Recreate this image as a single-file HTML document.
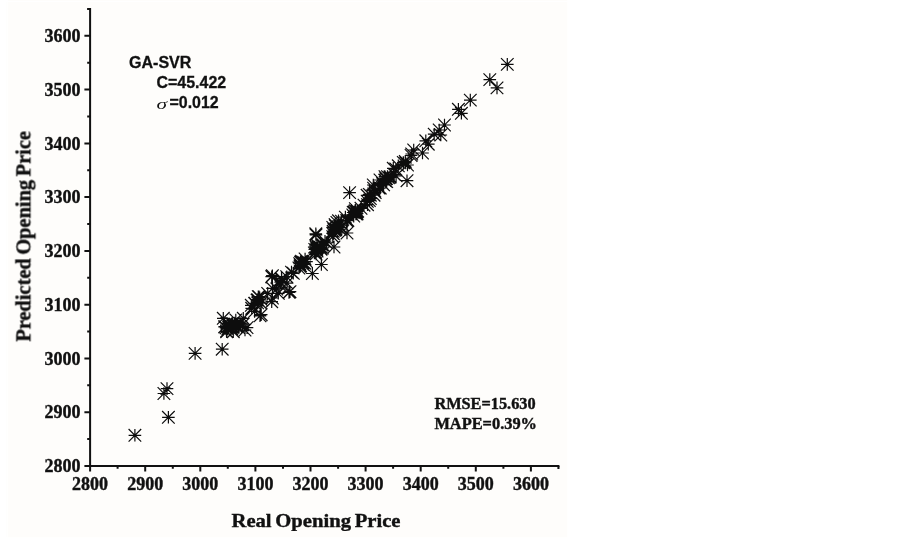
<!DOCTYPE html>
<html><head><meta charset="utf-8"><title>GA-SVR</title>
<style>
html,body{margin:0;padding:0;background:#fff;}
body{width:903px;height:539px;overflow:hidden;}
svg{display:block;}
.s{font-family:"Liberation Serif",serif;font-weight:bold;fill:#111;stroke:#111;stroke-width:0.4px;}
.a{font-family:"Liberation Sans",sans-serif;font-weight:bold;fill:#111;stroke:#111;stroke-width:0.3px;}
</style></head><body>
<svg width="903" height="539" viewBox="0 0 903 539">
<rect x="0" y="0" width="903" height="539" fill="#ffffff"/>
<rect x="8" y="2" width="559.3" height="535.2" fill="#fefdfb"/><rect x="6.3" y="2" width="1" height="535" fill="#fefefc"/><rect x="8" y="0" width="559.3" height="0.9" fill="#fefdfb"/>
<path d="M90.1 8.1V466.0H559.4" fill="none" stroke="#111" stroke-width="2" stroke-linecap="butt" stroke-linejoin="miter"/>
<path d="M90.1 466.0v5.6M90.1 466.0h-5.7M117.6 466.0v2.8M90.1 439.1h-2.9M145.2 466.0v5.6M90.1 412.2h-5.7M172.8 466.0v2.8M90.1 385.3h-2.9M200.3 466.0v5.6M90.1 358.5h-5.7M227.8 466.0v2.8M90.1 331.6h-2.9M255.4 466.0v5.6M90.1 304.7h-5.7M283.0 466.0v2.8M90.1 277.8h-2.9M310.5 466.0v5.6M90.1 250.9h-5.7M338.1 466.0v2.8M90.1 224.0h-2.9M365.6 466.0v5.6M90.1 197.1h-5.7M393.1 466.0v2.8M90.1 170.2h-2.9M420.7 466.0v5.6M90.1 143.4h-5.7M448.2 466.0v2.8M90.1 116.5h-2.9M475.8 466.0v5.6M90.1 89.6h-5.7M503.4 466.0v2.8M90.1 62.7h-2.9M530.9 466.0v5.6M90.1 35.8h-5.7M558.5 466.0v2.8M90.1 8.9h-2.9M90.1 9.1h-3.0M558.4 466.0v2.9" fill="none" stroke="#111" stroke-width="2"/>
<g style="filter:grayscale(1)">
<g class="s" font-size="18">
<text x="90.1" y="489.7" text-anchor="middle" textLength="36" lengthAdjust="spacingAndGlyphs">2800</text>
<text x="80.6" y="472.2" text-anchor="end" textLength="36" lengthAdjust="spacingAndGlyphs">2800</text>
<text x="145.2" y="489.7" text-anchor="middle" textLength="36" lengthAdjust="spacingAndGlyphs">2900</text>
<text x="80.6" y="418.4" text-anchor="end" textLength="36" lengthAdjust="spacingAndGlyphs">2900</text>
<text x="200.3" y="489.7" text-anchor="middle" textLength="36" lengthAdjust="spacingAndGlyphs">3000</text>
<text x="80.6" y="364.7" text-anchor="end" textLength="36" lengthAdjust="spacingAndGlyphs">3000</text>
<text x="255.4" y="489.7" text-anchor="middle" textLength="36" lengthAdjust="spacingAndGlyphs">3100</text>
<text x="80.6" y="310.9" text-anchor="end" textLength="36" lengthAdjust="spacingAndGlyphs">3100</text>
<text x="310.5" y="489.7" text-anchor="middle" textLength="36" lengthAdjust="spacingAndGlyphs">3200</text>
<text x="80.6" y="257.1" text-anchor="end" textLength="36" lengthAdjust="spacingAndGlyphs">3200</text>
<text x="365.6" y="489.7" text-anchor="middle" textLength="36" lengthAdjust="spacingAndGlyphs">3300</text>
<text x="80.6" y="203.3" text-anchor="end" textLength="36" lengthAdjust="spacingAndGlyphs">3300</text>
<text x="420.7" y="489.7" text-anchor="middle" textLength="36" lengthAdjust="spacingAndGlyphs">3400</text>
<text x="80.6" y="149.6" text-anchor="end" textLength="36" lengthAdjust="spacingAndGlyphs">3400</text>
<text x="475.8" y="489.7" text-anchor="middle" textLength="36" lengthAdjust="spacingAndGlyphs">3500</text>
<text x="80.6" y="95.8" text-anchor="end" textLength="36" lengthAdjust="spacingAndGlyphs">3500</text>
<text x="530.9" y="489.7" text-anchor="middle" textLength="36" lengthAdjust="spacingAndGlyphs">3600</text>
<text x="80.6" y="42.0" text-anchor="end" textLength="36" lengthAdjust="spacingAndGlyphs">3600</text>
</g>
<text class="s" font-size="19" word-spacing="-1.3" x="316" y="526.5" text-anchor="middle" textLength="169" lengthAdjust="spacingAndGlyphs">Real Opening Price</text>
<text class="s" font-size="20" word-spacing="-1.4" transform="translate(30.4 236.4) rotate(-90)" text-anchor="middle" textLength="210.6" lengthAdjust="spacingAndGlyphs">Predicted Opening Price</text>
<text class="a" font-size="16" x="129" y="67.8" textLength="62.4" lengthAdjust="spacingAndGlyphs">GA-SVR</text>
<text class="a" font-size="16" x="156.5" y="87.6" textLength="69.7" lengthAdjust="spacingAndGlyphs">C=45.422</text>
<text transform="translate(156.4 108.8) scale(1.38 1)" font-family="Liberation Serif,serif" font-style="italic" font-size="15.5" fill="#111">σ</text>
<text class="a" font-size="16" x="169.5" y="108.3" textLength="49.2" lengthAdjust="spacingAndGlyphs">=0.012</text>
<text class="s" font-size="15.8" x="434.4" y="408.6" textLength="101.2" lengthAdjust="spacingAndGlyphs">RMSE=15.630</text>
<text class="s" font-size="15.8" x="434.4" y="428.8" textLength="102.6" lengthAdjust="spacingAndGlyphs">MAPE=0.39%</text>
</g>
<path d="M501.0 64.4h12.6M507.3 58.1v12.6M501.0 58.1l12.6 12.6M501.0 70.7l12.6 -12.6M483.5 79.6h12.6M489.8 73.3v12.6M483.5 73.3l12.6 12.6M483.5 85.9l12.6 -12.6M490.7 87.9h12.6M497.0 81.6v12.6M490.7 81.6l12.6 12.6M490.7 94.2l12.6 -12.6M464.0 100.1h12.6M470.3 93.8v12.6M464.0 93.8l12.6 12.6M464.0 106.4l12.6 -12.6M452.1 109.3h12.6M458.4 103.0v12.6M452.1 103.0l12.6 12.6M452.1 115.6l12.6 -12.6M455.1 113.3h12.6M461.4 107.0v12.6M455.1 107.0l12.6 12.6M455.1 119.6l12.6 -12.6M438.2 125.0h12.6M444.5 118.7v12.6M438.2 118.7l12.6 12.6M438.2 131.3l12.6 -12.6M432.9 130.0h12.6M439.2 123.7v12.6M432.9 123.7l12.6 12.6M432.9 136.3l12.6 -12.6M427.9 134.2h12.6M434.2 127.9v12.6M427.9 127.9l12.6 12.6M427.9 140.5l12.6 -12.6M434.5 135.0h12.6M440.8 128.7v12.6M434.5 128.7l12.6 12.6M434.5 141.3l12.6 -12.6M419.5 140.8h12.6M425.8 134.5v12.6M419.5 134.5l12.6 12.6M419.5 147.1l12.6 -12.6M422.0 144.2h12.6M428.3 137.9v12.6M422.0 137.9l12.6 12.6M422.0 150.5l12.6 -12.6M407.4 150.0h12.6M413.7 143.7v12.6M407.4 143.7l12.6 12.6M407.4 156.3l12.6 -12.6M416.2 153.0h12.6M422.5 146.7v12.6M416.2 146.7l12.6 12.6M416.2 159.3l12.6 -12.6M397.0 162.5h12.6M403.3 156.2v12.6M397.0 156.2l12.6 12.6M397.0 168.8l12.6 -12.6M392.0 165.8h12.6M398.3 159.5v12.6M392.0 159.5l12.6 12.6M392.0 172.1l12.6 -12.6M401.2 165.0h12.6M407.5 158.7v12.6M401.2 158.7l12.6 12.6M401.2 171.3l12.6 -12.6M387.0 168.3h12.6M393.3 162.0v12.6M387.0 162.0l12.6 12.6M387.0 174.6l12.6 -12.6M400.7 180.7h12.6M407.0 174.4v12.6M400.7 174.4l12.6 12.6M400.7 187.0l12.6 -12.6M378.7 176.7h12.6M385.0 170.4v12.6M378.7 170.4l12.6 12.6M378.7 183.0l12.6 -12.6M373.7 180.0h12.6M380.0 173.7v12.6M373.7 173.7l12.6 12.6M373.7 186.3l12.6 -12.6M367.0 185.0h12.6M373.3 178.7v12.6M367.0 178.7l12.6 12.6M367.0 191.3l12.6 -12.6M343.3 192.6h12.6M349.6 186.3v12.6M343.3 186.3l12.6 12.6M343.3 198.9l12.6 -12.6M340.7 233.0h12.6M347.0 226.7v12.6M340.7 226.7l12.6 12.6M340.7 239.3l12.6 -12.6M327.7 247.0h12.6M334.0 240.7v12.6M327.7 240.7l12.6 12.6M327.7 253.3l12.6 -12.6M309.7 235.0h12.6M316.0 228.7v12.6M309.7 228.7l12.6 12.6M309.7 241.3l12.6 -12.6M309.5 233.8h12.6M315.8 227.5v12.6M309.5 227.5l12.6 12.6M309.5 240.1l12.6 -12.6M315.1 264.5h12.6M321.4 258.2v12.6M315.1 258.2l12.6 12.6M315.1 270.8l12.6 -12.6M306.1 273.5h12.6M312.4 267.2v12.6M306.1 267.2l12.6 12.6M306.1 279.8l12.6 -12.6M266.1 275.7h12.6M272.4 269.4v12.6M266.1 269.4l12.6 12.6M266.1 282.0l12.6 -12.6M282.7 292.4h12.6M289.0 286.1v12.6M282.7 286.1l12.6 12.6M282.7 298.7l12.6 -12.6M270.5 289.0h12.6M276.8 282.7v12.6M270.5 282.7l12.6 12.6M270.5 295.3l12.6 -12.6M266.1 298.0h12.6M272.4 291.7v12.6M266.1 291.7l12.6 12.6M266.1 304.3l12.6 -12.6M252.7 296.8h12.6M259.0 290.5v12.6M252.7 290.5l12.6 12.6M252.7 303.1l12.6 -12.6M254.9 314.7h12.6M261.2 308.4v12.6M254.9 308.4l12.6 12.6M254.9 321.0l12.6 -12.6M215.9 349.2h12.6M222.2 342.9v12.6M215.9 342.9l12.6 12.6M215.9 355.5l12.6 -12.6M217.0 318.3h12.6M223.3 312.0v12.6M217.0 312.0l12.6 12.6M217.0 324.6l12.6 -12.6M218.7 326.7h12.6M225.0 320.4v12.6M218.7 320.4l12.6 12.6M218.7 333.0l12.6 -12.6M220.4 331.7h12.6M226.7 325.4v12.6M220.4 325.4l12.6 12.6M220.4 338.0l12.6 -12.6M225.4 326.7h12.6M231.7 320.4v12.6M225.4 320.4l12.6 12.6M225.4 333.0l12.6 -12.6M227.0 331.7h12.6M233.3 325.4v12.6M227.0 325.4l12.6 12.6M227.0 338.0l12.6 -12.6M229.5 320.0h12.6M235.8 313.7v12.6M229.5 313.7l12.6 12.6M229.5 326.3l12.6 -12.6M233.7 323.3h12.6M240.0 317.0v12.6M233.7 317.0l12.6 12.6M233.7 329.6l12.6 -12.6M238.7 330.0h12.6M245.0 323.7v12.6M238.7 323.7l12.6 12.6M238.7 336.3l12.6 -12.6M237.0 318.3h12.6M243.3 312.0v12.6M237.0 312.0l12.6 12.6M237.0 324.6l12.6 -12.6M253.7 315.8h12.6M260.0 309.5v12.6M253.7 309.5l12.6 12.6M253.7 322.1l12.6 -12.6M252.0 296.7h12.6M258.3 290.4v12.6M252.0 290.4l12.6 12.6M252.0 303.0l12.6 -12.6M248.7 303.3h12.6M255.0 297.0v12.6M248.7 297.0l12.6 12.6M248.7 309.6l12.6 -12.6M255.4 300.0h12.6M261.7 293.7v12.6M255.4 293.7l12.6 12.6M255.4 306.3l12.6 -12.6M245.4 308.3h12.6M251.7 302.0v12.6M245.4 302.0l12.6 12.6M245.4 314.6l12.6 -12.6M265.4 301.7h12.6M271.7 295.4v12.6M265.4 295.4l12.6 12.6M265.4 308.0l12.6 -12.6M272.0 293.3h12.6M278.3 287.0v12.6M272.0 287.0l12.6 12.6M272.0 299.6l12.6 -12.6M266.2 288.3h12.6M272.5 282.0v12.6M266.2 282.0l12.6 12.6M266.2 294.6l12.6 -12.6M283.7 291.7h12.6M290.0 285.4v12.6M283.7 285.4l12.6 12.6M283.7 298.0l12.6 -12.6M265.4 276.7h12.6M271.7 270.4v12.6M265.4 270.4l12.6 12.6M265.4 283.0l12.6 -12.6M280.4 276.7h12.6M286.7 270.4v12.6M280.4 270.4l12.6 12.6M280.4 283.0l12.6 -12.6M275.4 280.0h12.6M281.7 273.7v12.6M275.4 273.7l12.6 12.6M275.4 286.3l12.6 -12.6M287.0 273.3h12.6M293.3 267.0v12.6M287.0 267.0l12.6 12.6M287.0 279.6l12.6 -12.6M128.6 435.3h12.6M134.9 429.0v12.6M128.6 429.0l12.6 12.6M128.6 441.6l12.6 -12.6M162.1 417.3h12.6M168.4 411.0v12.6M162.1 411.0l12.6 12.6M162.1 423.6l12.6 -12.6M157.6 393.5h12.6M163.9 387.2v12.6M157.6 387.2l12.6 12.6M157.6 399.8l12.6 -12.6M160.7 388.6h12.6M167.0 382.3v12.6M160.7 382.3l12.6 12.6M160.7 394.9l12.6 -12.6M188.8 353.4h12.6M195.1 347.1v12.6M188.8 347.1l12.6 12.6M188.8 359.7l12.6 -12.6M225.5 328.5h12.6M231.8 322.2v12.6M225.5 322.2l12.6 12.6M225.5 334.8l12.6 -12.6M220.2 331.0h12.6M226.5 324.7v12.6M220.2 324.7l12.6 12.6M220.2 337.3l12.6 -12.6M229.3 324.1h12.6M235.6 317.8v12.6M229.3 317.8l12.6 12.6M229.3 330.4l12.6 -12.6M229.1 325.7h12.6M235.4 319.4v12.6M229.1 319.4l12.6 12.6M229.1 332.0l12.6 -12.6M218.3 326.8h12.6M224.6 320.5v12.6M218.3 320.5l12.6 12.6M218.3 333.1l12.6 -12.6M219.8 327.9h12.6M226.1 321.6v12.6M219.8 321.6l12.6 12.6M219.8 334.2l12.6 -12.6M227.2 326.1h12.6M233.5 319.8v12.6M227.2 319.8l12.6 12.6M227.2 332.4l12.6 -12.6M222.3 325.3h12.6M228.6 319.0v12.6M222.3 319.0l12.6 12.6M222.3 331.6l12.6 -12.6M232.5 327.8h12.6M238.8 321.5v12.6M232.5 321.5l12.6 12.6M232.5 334.1l12.6 -12.6M226.1 324.4h12.6M232.4 318.1v12.6M226.1 318.1l12.6 12.6M226.1 330.7l12.6 -12.6M240.7 327.6h12.6M247.0 321.3v12.6M240.7 321.3l12.6 12.6M240.7 333.9l12.6 -12.6M224.5 327.9h12.6M230.8 321.6v12.6M224.5 321.6l12.6 12.6M224.5 334.2l12.6 -12.6M221.4 329.0h12.6M227.7 322.7v12.6M221.4 322.7l12.6 12.6M221.4 335.3l12.6 -12.6M236.1 324.8h12.6M242.4 318.5v12.6M236.1 318.5l12.6 12.6M236.1 331.1l12.6 -12.6M220.7 323.3h12.6M227.0 317.0v12.6M220.7 317.0l12.6 12.6M220.7 329.6l12.6 -12.6M225.3 323.7h12.6M231.6 317.4v12.6M225.3 317.4l12.6 12.6M225.3 330.0l12.6 -12.6M230.0 325.7h12.6M236.3 319.4v12.6M230.0 319.4l12.6 12.6M230.0 332.0l12.6 -12.6M222.3 327.2h12.6M228.6 320.9v12.6M222.3 320.9l12.6 12.6M222.3 333.5l12.6 -12.6M250.7 300.1h12.6M257.0 293.8v12.6M250.7 293.8l12.6 12.6M250.7 306.4l12.6 -12.6M251.3 302.9h12.6M257.6 296.6v12.6M251.3 296.6l12.6 12.6M251.3 309.2l12.6 -12.6M248.3 303.4h12.6M254.6 297.1v12.6M248.3 297.1l12.6 12.6M248.3 309.7l12.6 -12.6M254.6 303.2h12.6M260.9 296.9v12.6M254.6 296.9l12.6 12.6M254.6 309.5l12.6 -12.6M245.0 305.3h12.6M251.3 299.0v12.6M245.0 299.0l12.6 12.6M245.0 311.6l12.6 -12.6M253.4 297.9h12.6M259.7 291.6v12.6M253.4 291.6l12.6 12.6M253.4 304.2l12.6 -12.6M251.5 299.6h12.6M257.8 293.3v12.6M251.5 293.3l12.6 12.6M251.5 305.9l12.6 -12.6M248.3 311.4h12.6M254.6 305.1v12.6M248.3 305.1l12.6 12.6M248.3 317.7l12.6 -12.6M273.5 285.2h12.6M279.8 278.9v12.6M273.5 278.9l12.6 12.6M273.5 291.5l12.6 -12.6M274.4 282.2h12.6M280.7 275.9v12.6M274.4 275.9l12.6 12.6M274.4 288.5l12.6 -12.6M261.4 293.4h12.6M267.7 287.1v12.6M261.4 287.1l12.6 12.6M261.4 299.7l12.6 -12.6M275.2 278.4h12.6M281.5 272.1v12.6M275.2 272.1l12.6 12.6M275.2 284.7l12.6 -12.6M285.2 272.1h12.6M291.5 265.8v12.6M285.2 265.8l12.6 12.6M285.2 278.4l12.6 -12.6M280.8 283.1h12.6M287.1 276.8v12.6M280.8 276.8l12.6 12.6M280.8 289.4l12.6 -12.6M350.5 211.7h12.6M356.8 205.4v12.6M350.5 205.4l12.6 12.6M350.5 218.0l12.6 -12.6M382.1 177.7h12.6M388.4 171.4v12.6M382.1 171.4l12.6 12.6M382.1 184.0l12.6 -12.6M361.2 204.7h12.6M367.5 198.4v12.6M361.2 198.4l12.6 12.6M361.2 211.0l12.6 -12.6M349.6 213.9h12.6M355.9 207.6v12.6M349.6 207.6l12.6 12.6M349.6 220.2l12.6 -12.6M326.9 231.3h12.6M333.2 225.0v12.6M326.9 225.0l12.6 12.6M326.9 237.6l12.6 -12.6M354.7 208.3h12.6M361.0 202.0v12.6M354.7 202.0l12.6 12.6M354.7 214.6l12.6 -12.6M309.8 254.0h12.6M316.1 247.7v12.6M309.8 247.7l12.6 12.6M309.8 260.3l12.6 -12.6M310.7 251.0h12.6M317.0 244.7v12.6M310.7 244.7l12.6 12.6M310.7 257.3l12.6 -12.6M377.3 184.9h12.6M383.6 178.6v12.6M377.3 178.6l12.6 12.6M377.3 191.2l12.6 -12.6M328.2 230.3h12.6M334.5 224.0v12.6M328.2 224.0l12.6 12.6M328.2 236.6l12.6 -12.6M293.7 266.6h12.6M300.0 260.3v12.6M293.7 260.3l12.6 12.6M293.7 272.9l12.6 -12.6M351.4 211.0h12.6M357.7 204.7v12.6M351.4 204.7l12.6 12.6M351.4 217.3l12.6 -12.6M311.5 247.4h12.6M317.8 241.1v12.6M311.5 241.1l12.6 12.6M311.5 253.7l12.6 -12.6M315.5 245.0h12.6M321.8 238.7v12.6M315.5 238.7l12.6 12.6M315.5 251.3l12.6 -12.6M379.5 181.1h12.6M385.8 174.8v12.6M379.5 174.8l12.6 12.6M379.5 187.4l12.6 -12.6M389.5 169.0h12.6M395.8 162.7v12.6M389.5 162.7l12.6 12.6M389.5 175.3l12.6 -12.6M348.8 210.8h12.6M355.1 204.5v12.6M348.8 204.5l12.6 12.6M348.8 217.1l12.6 -12.6M351.3 211.2h12.6M357.6 204.9v12.6M351.3 204.9l12.6 12.6M351.3 217.5l12.6 -12.6M316.1 248.0h12.6M322.4 241.7v12.6M316.1 241.7l12.6 12.6M316.1 254.3l12.6 -12.6M368.9 192.6h12.6M375.2 186.3v12.6M368.9 186.3l12.6 12.6M368.9 198.9l12.6 -12.6M298.1 263.0h12.6M304.4 256.7v12.6M298.1 256.7l12.6 12.6M298.1 269.3l12.6 -12.6M383.9 176.6h12.6M390.2 170.3v12.6M383.9 170.3l12.6 12.6M383.9 182.9l12.6 -12.6M300.2 261.6h12.6M306.5 255.3v12.6M300.2 255.3l12.6 12.6M300.2 267.9l12.6 -12.6M341.6 220.3h12.6M347.9 214.0v12.6M341.6 214.0l12.6 12.6M341.6 226.6l12.6 -12.6M317.5 245.6h12.6M323.8 239.3v12.6M317.5 239.3l12.6 12.6M317.5 251.9l12.6 -12.6M383.6 177.4h12.6M389.9 171.1v12.6M383.6 171.1l12.6 12.6M383.6 183.7l12.6 -12.6M347.4 216.1h12.6M353.7 209.8v12.6M347.4 209.8l12.6 12.6M347.4 222.4l12.6 -12.6M368.5 191.2h12.6M374.8 184.9v12.6M368.5 184.9l12.6 12.6M368.5 197.5l12.6 -12.6M332.2 220.8h12.6M338.5 214.5v12.6M332.2 214.5l12.6 12.6M332.2 227.1l12.6 -12.6M311.5 245.4h12.6M317.8 239.1v12.6M311.5 239.1l12.6 12.6M311.5 251.7l12.6 -12.6M311.6 246.2h12.6M317.9 239.9v12.6M311.6 239.9l12.6 12.6M311.6 252.5l12.6 -12.6M310.3 247.7h12.6M316.6 241.4v12.6M310.3 241.4l12.6 12.6M310.3 254.0l12.6 -12.6M347.9 212.0h12.6M354.2 205.7v12.6M347.9 205.7l12.6 12.6M347.9 218.3l12.6 -12.6M326.5 227.4h12.6M332.8 221.1v12.6M326.5 221.1l12.6 12.6M326.5 233.7l12.6 -12.6M340.4 220.6h12.6M346.7 214.3v12.6M340.4 214.3l12.6 12.6M340.4 226.9l12.6 -12.6M389.8 175.9h12.6M396.1 169.6v12.6M389.8 169.6l12.6 12.6M389.8 182.2l12.6 -12.6M314.8 248.8h12.6M321.1 242.5v12.6M314.8 242.5l12.6 12.6M314.8 255.1l12.6 -12.6M349.1 208.6h12.6M355.4 202.3v12.6M349.1 202.3l12.6 12.6M349.1 214.9l12.6 -12.6M339.1 217.1h12.6M345.4 210.8v12.6M339.1 210.8l12.6 12.6M339.1 223.4l12.6 -12.6M387.9 174.3h12.6M394.2 168.0v12.6M387.9 168.0l12.6 12.6M387.9 180.6l12.6 -12.6M372.7 188.1h12.6M379.0 181.8v12.6M372.7 181.8l12.6 12.6M372.7 194.4l12.6 -12.6M378.4 180.2h12.6M384.7 173.9v12.6M378.4 173.9l12.6 12.6M378.4 186.5l12.6 -12.6M333.7 229.2h12.6M340.0 222.9v12.6M333.7 222.9l12.6 12.6M333.7 235.5l12.6 -12.6M295.1 262.9h12.6M301.4 256.6v12.6M295.1 256.6l12.6 12.6M295.1 269.2l12.6 -12.6M310.4 248.9h12.6M316.7 242.6v12.6M310.4 242.6l12.6 12.6M310.4 255.2l12.6 -12.6M367.3 188.2h12.6M373.6 181.9v12.6M367.3 181.9l12.6 12.6M367.3 194.5l12.6 -12.6M334.0 227.4h12.6M340.3 221.1v12.6M334.0 221.1l12.6 12.6M334.0 233.7l12.6 -12.6M379.5 178.7h12.6M385.8 172.4v12.6M379.5 172.4l12.6 12.6M379.5 185.0l12.6 -12.6M336.6 225.1h12.6M342.9 218.8v12.6M336.6 218.8l12.6 12.6M336.6 231.4l12.6 -12.6M327.0 233.6h12.6M333.3 227.3v12.6M327.0 227.3l12.6 12.6M327.0 239.9l12.6 -12.6M326.5 236.7h12.6M332.8 230.4v12.6M326.5 230.4l12.6 12.6M326.5 243.0l12.6 -12.6M320.1 242.9h12.6M326.4 236.6v12.6M320.1 236.6l12.6 12.6M320.1 249.2l12.6 -12.6M361.0 201.4h12.6M367.3 195.1v12.6M361.0 195.1l12.6 12.6M361.0 207.7l12.6 -12.6M381.2 176.6h12.6M387.5 170.3v12.6M381.2 170.3l12.6 12.6M381.2 182.9l12.6 -12.6M313.7 247.5h12.6M320.0 241.2v12.6M313.7 241.2l12.6 12.6M313.7 253.8l12.6 -12.6M308.5 249.4h12.6M314.8 243.1v12.6M308.5 243.1l12.6 12.6M308.5 255.7l12.6 -12.6M309.2 251.9h12.6M315.5 245.6v12.6M309.2 245.6l12.6 12.6M309.2 258.2l12.6 -12.6M327.5 229.1h12.6M333.8 222.8v12.6M327.5 222.8l12.6 12.6M327.5 235.4l12.6 -12.6M296.7 262.3h12.6M303.0 256.0v12.6M296.7 256.0l12.6 12.6M296.7 268.6l12.6 -12.6M295.2 261.3h12.6M301.5 255.0v12.6M295.2 255.0l12.6 12.6M295.2 267.6l12.6 -12.6M292.6 268.0h12.6M298.9 261.7v12.6M292.6 261.7l12.6 12.6M292.6 274.3l12.6 -12.6M367.7 195.2h12.6M374.0 188.9v12.6M367.7 188.9l12.6 12.6M367.7 201.5l12.6 -12.6M346.5 215.0h12.6M352.8 208.7v12.6M346.5 208.7l12.6 12.6M346.5 221.3l12.6 -12.6M335.2 221.1h12.6M341.5 214.8v12.6M335.2 214.8l12.6 12.6M335.2 227.4l12.6 -12.6M350.5 212.1h12.6M356.8 205.8v12.6M350.5 205.8l12.6 12.6M350.5 218.4l12.6 -12.6M293.4 263.7h12.6M299.7 257.4v12.6M293.4 257.4l12.6 12.6M293.4 270.0l12.6 -12.6M328.9 224.6h12.6M335.2 218.3v12.6M328.9 218.3l12.6 12.6M328.9 230.9l12.6 -12.6M380.2 178.5h12.6M386.5 172.2v12.6M380.2 172.2l12.6 12.6M380.2 184.8l12.6 -12.6M316.6 244.8h12.6M322.9 238.5v12.6M316.6 238.5l12.6 12.6M316.6 251.1l12.6 -12.6M328.8 224.7h12.6M335.1 218.4v12.6M328.8 218.4l12.6 12.6M328.8 231.0l12.6 -12.6M308.1 252.9h12.6M314.4 246.6v12.6M308.1 246.6l12.6 12.6M308.1 259.2l12.6 -12.6M364.0 198.6h12.6M370.3 192.3v12.6M364.0 192.3l12.6 12.6M364.0 204.9l12.6 -12.6M295.8 263.2h12.6M302.1 256.9v12.6M295.8 256.9l12.6 12.6M295.8 269.5l12.6 -12.6M346.9 212.5h12.6M353.2 206.2v12.6M346.9 206.2l12.6 12.6M346.9 218.8l12.6 -12.6M329.4 229.8h12.6M335.7 223.5v12.6M329.4 223.5l12.6 12.6M329.4 236.1l12.6 -12.6M374.0 188.0h12.6M380.3 181.7v12.6M374.0 181.7l12.6 12.6M374.0 194.3l12.6 -12.6M296.5 264.3h12.6M302.8 258.0v12.6M296.5 258.0l12.6 12.6M296.5 270.6l12.6 -12.6M376.2 183.7h12.6M382.5 177.4v12.6M376.2 177.4l12.6 12.6M376.2 190.0l12.6 -12.6M363.0 200.5h12.6M369.3 194.2v12.6M363.0 194.2l12.6 12.6M363.0 206.8l12.6 -12.6M363.0 194.4h12.6M369.3 188.1v12.6M363.0 188.1l12.6 12.6M363.0 200.7l12.6 -12.6M294.2 265.7h12.6M300.5 259.4v12.6M294.2 259.4l12.6 12.6M294.2 272.0l12.6 -12.6M318.7 241.2h12.6M325.0 234.9v12.6M318.7 234.9l12.6 12.6M318.7 247.5l12.6 -12.6M296.1 262.4h12.6M302.4 256.1v12.6M296.1 256.1l12.6 12.6M296.1 268.7l12.6 -12.6M298.4 263.0h12.6M304.7 256.7v12.6M298.4 256.7l12.6 12.6M298.4 269.3l12.6 -12.6M360.8 195.3h12.6M367.1 189.0v12.6M360.8 189.0l12.6 12.6M360.8 201.6l12.6 -12.6M298.8 259.0h12.6M305.1 252.7v12.6M298.8 252.7l12.6 12.6M298.8 265.3l12.6 -12.6M313.9 247.3h12.6M320.2 241.0v12.6M313.9 241.0l12.6 12.6M313.9 253.6l12.6 -12.6M357.7 205.2h12.6M364.0 198.9v12.6M357.7 198.9l12.6 12.6M357.7 211.5l12.6 -12.6M314.7 249.4h12.6M321.0 243.1v12.6M314.7 243.1l12.6 12.6M314.7 255.7l12.6 -12.6M330.6 222.5h12.6M336.9 216.2v12.6M330.6 216.2l12.6 12.6M330.6 228.8l12.6 -12.6M294.2 262.1h12.6M300.5 255.8v12.6M294.2 255.8l12.6 12.6M294.2 268.4l12.6 -12.6M350.5 214.0h12.6M356.8 207.7v12.6M350.5 207.7l12.6 12.6M350.5 220.3l12.6 -12.6M380.4 181.6h12.6M386.7 175.3v12.6M380.4 175.3l12.6 12.6M380.4 187.9l12.6 -12.6M329.1 226.0h12.6M335.4 219.7v12.6M329.1 219.7l12.6 12.6M329.1 232.3l12.6 -12.6M326.4 233.4h12.6M332.7 227.1v12.6M326.4 227.1l12.6 12.6M326.4 239.7l12.6 -12.6M364.0 195.2h12.6M370.3 188.9v12.6M364.0 188.9l12.6 12.6M364.0 201.5l12.6 -12.6M293.8 265.9h12.6M300.1 259.6v12.6M293.8 259.6l12.6 12.6M293.8 272.2l12.6 -12.6M329.7 228.8h12.6M336.0 222.5v12.6M329.7 222.5l12.6 12.6M329.7 235.1l12.6 -12.6M350.8 213.5h12.6M357.1 207.2v12.6M350.8 207.2l12.6 12.6M350.8 219.8l12.6 -12.6M310.5 250.0h12.6M316.8 243.7v12.6M310.5 243.7l12.6 12.6M310.5 256.3l12.6 -12.6M397.2 162.7h12.6M403.5 156.4v12.6M397.2 156.4l12.6 12.6M397.2 169.0l12.6 -12.6M399.4 163.0h12.6M405.7 156.7v12.6M399.4 156.7l12.6 12.6M399.4 169.3l12.6 -12.6M399.0 161.4h12.6M405.3 155.1v12.6M399.0 155.1l12.6 12.6M399.0 167.7l12.6 -12.6M405.4 154.0h12.6M411.7 147.7v12.6M405.4 147.7l12.6 12.6M405.4 160.3l12.6 -12.6M404.8 155.5h12.6M411.1 149.2v12.6M404.8 149.2l12.6 12.6M404.8 161.8l12.6 -12.6" fill="none" stroke="#0d0d0d" stroke-width="1.2"/>
</svg>
</body></html>
